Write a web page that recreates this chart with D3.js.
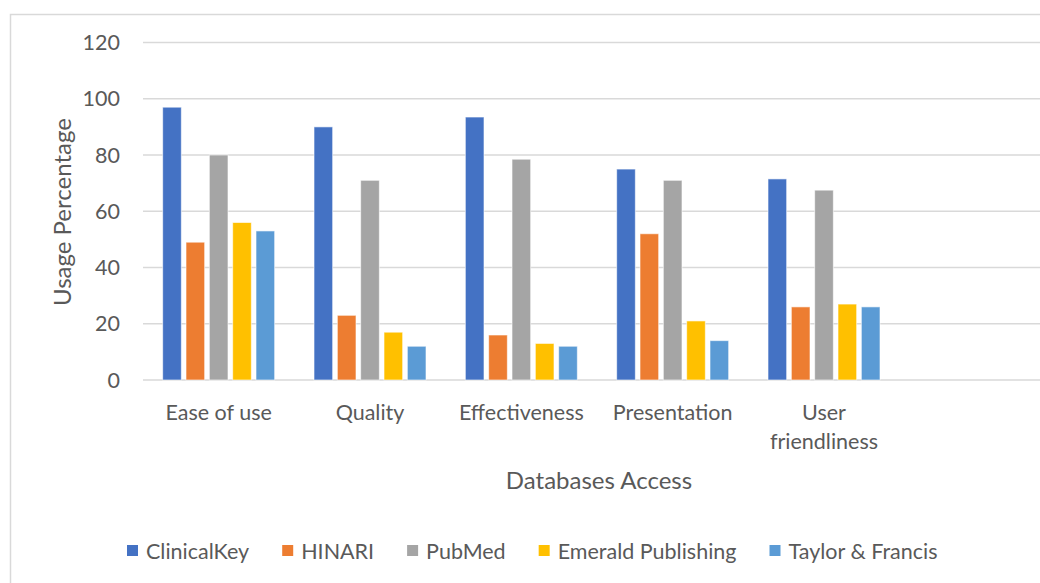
<!DOCTYPE html>
<html>
<head>
<meta charset="utf-8">
<script src="https://cdn.jsdelivr.net/npm/d3@7"></script>
<style>
  body { margin: 0; background: #fff; }
  text { font-family: Lato, "Liberation Sans", sans-serif; fill: #595959; }
</style>
</head>
<body>
<div id="chart"></div>
<script>
// categories (the last slot is empty in the original chart)
var categories = ['Ease of use', 'Quality', 'Effectiveness', 'Presentation', 'User friendliness', ''];
var series = ['ClinicalKey', 'HINARI', 'PubMed', 'Emerald Publishing', 'Taylor & Francis'];
var colors = ['#4472C4', '#ED7D31', '#A5A5A5', '#FFC000', '#5B9BD5'];

var clinicalKey = [97, 90, 93.5, 75, 71.5];
var hinari      = [49, 23, 16, 52, 26];
var pubMed      = [80, 71, 78.5, 71, 67.5];
var emerald     = [56, 17, 13, 21, 27];
var taylor      = [53, 12, 12, 14, 26];
var yTicks = [0, 20, 40, 60, 80, 100, 120];

var values = [clinicalKey, hinari, pubMed, emerald, taylor];

var width = 1040, height = 583;

var svg = d3.select('#chart').append('svg')
  .attr('width', width)
  .attr('height', height);

// chart border
svg.append('rect')
  .attr('x', 10.5).attr('y', 14.5)
  .attr('width', 1100).attr('height', 620)
  .attr('fill', 'none')
  .attr('stroke', '#d9d9d9')
  .attr('stroke-width', 1.5);

// scales
var x0 = d3.scaleBand().domain(categories).range([143, 1051]);
var groupW = 112;
var x1 = d3.scaleBand().domain(series).range([0, groupW]).paddingInner(0.2);
var y = d3.scaleLinear().domain([0, 120]).range([380, 42.5]);

// gridlines
svg.append('g').selectAll('line')
  .data(yTicks)
  .enter().append('line')
  .attr('x1', 143).attr('x2', 1060)
  .attr('y1', function(d) { return y(d); })
  .attr('y2', function(d) { return y(d); })
  .attr('stroke', '#d9d9d9')
  .attr('stroke-width', 1.5);

// y tick labels
svg.append('g').selectAll('text')
  .data(yTicks)
  .enter().append('text')
  .attr('x', 120)
  .attr('y', function(d) { return y(d) + 7.5; })
  .attr('text-anchor', 'end')
  .style('font-size', '21.5px')
  .text(function(d) { return d; });

// bars
series.forEach(function(s, i) {
  svg.append('g').selectAll('rect')
    .data(values[i])
    .enter().append('rect')
    .attr('x', function(d, j) { return x0(categories[j]) + (x0.bandwidth() - groupW) / 2 + x1(s); })
    .attr('y', function(d) { return y(d); })
    .attr('width', x1.bandwidth())
    .attr('height', function(d) { return y(0) - y(d); })
    .attr('fill', colors[i])
    .attr('stroke', '#ffffff')
    .attr('stroke-opacity', 0.6)
    .attr('stroke-width', 1);
});

// category labels (wrap the long one onto two lines)
var catG = svg.append('g');
categories.forEach(function(c) {
  if (!c) return;
  var cx = x0(c) + x0.bandwidth() / 2;
  var lines = c === 'User friendliness' ? ['User', 'friendliness'] : [c];
  var t = catG.append('text')
    .attr('x', cx)
    .attr('y', 419.5)
    .attr('text-anchor', 'middle')
    .style('font-size', '21.5px');
  lines.forEach(function(l, k) {
    t.append('tspan').attr('x', cx).attr('dy', k === 0 ? 0 : 29).text(l);
  });
});

// axis titles
svg.append('text')
  .attr('x', 599).attr('y', 489)
  .attr('text-anchor', 'middle')
  .style('font-size', '24px')
  .text('Databases Access');

svg.append('text')
  .attr('transform', 'translate(71,212) rotate(-90)')
  .attr('text-anchor', 'middle')
  .style('font-size', '24px')
  .text('Usage Percentage');

// legend
var legend = svg.append('g');
var lx = 127;
series.forEach(function(s, i) {
  legend.append('rect')
    .attr('x', lx).attr('y', 545)
    .attr('width', 11).attr('height', 11)
    .attr('fill', colors[i]);
  var t = legend.append('text')
    .attr('x', lx + 19).attr('y', 558.5)
    .style('font-size', '21.5px')
    .text(s);
  lx += 19 + t.node().getComputedTextLength() + 33;
});
</script>
</body>
</html>
